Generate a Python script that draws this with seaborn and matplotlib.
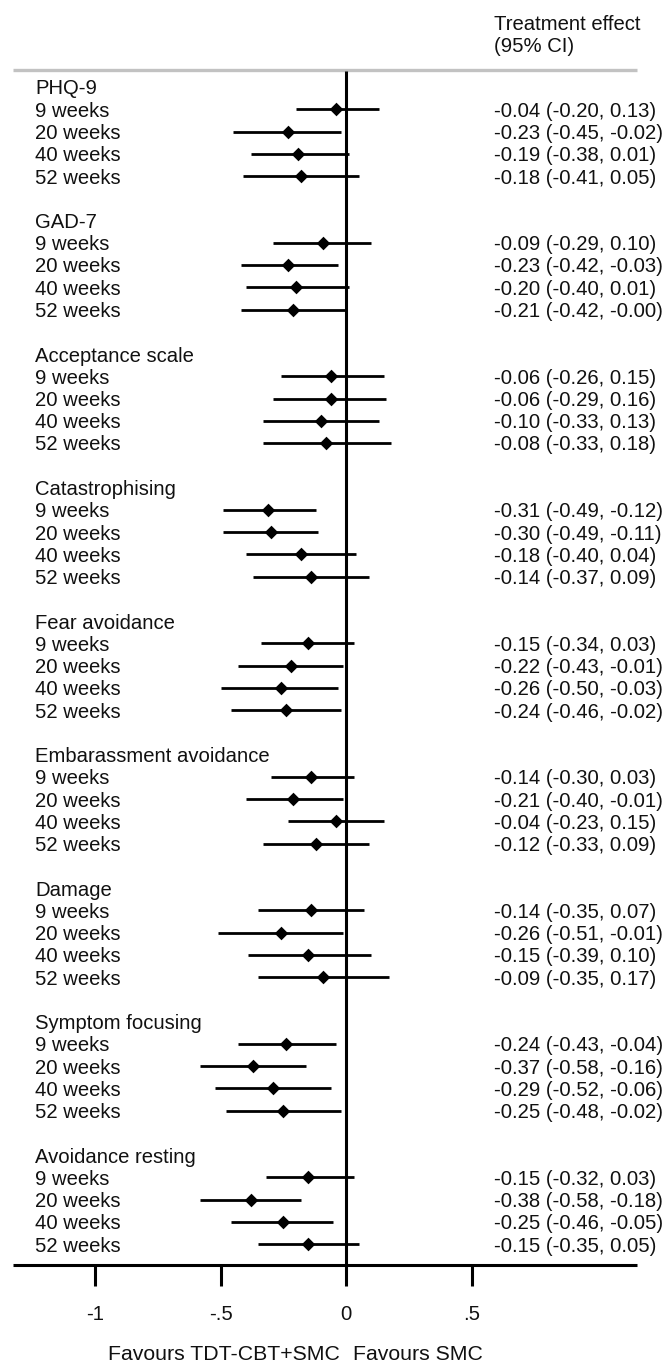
import matplotlib
matplotlib.use("Agg")
import matplotlib.pyplot as plt
import seaborn as sns
import pandas as pd
import numpy as np

sns.set_theme(style="white")
plt.rcParams['font.family'] = ['Liberation Sans', 'DejaVu Sans']
plt.rcParams['text.color'] = '#111111'

# ---------------- data ----------------
outcomes = ["PHQ-9", "GAD-7", "Acceptance scale", "Catastrophising", "Fear avoidance",
            "Embarassment avoidance", "Damage", "Symptom focusing", "Avoidance resting"]
timepoints = ["9 weeks", "20 weeks", "40 weeks", "52 weeks"]

est = [
    [-0.04, -0.23, -0.19, -0.18],
    [-0.09, -0.23, -0.20, -0.21],
    [-0.06, -0.06, -0.10, -0.08],
    [-0.31, -0.30, -0.18, -0.14],
    [-0.15, -0.22, -0.26, -0.24],
    [-0.14, -0.21, -0.04, -0.12],
    [-0.14, -0.26, -0.15, -0.09],
    [-0.24, -0.37, -0.29, -0.25],
    [-0.15, -0.38, -0.25, -0.15],
]
lower = [
    [-0.20, -0.45, -0.38, -0.41],
    [-0.29, -0.42, -0.40, -0.42],
    [-0.26, -0.29, -0.33, -0.33],
    [-0.49, -0.49, -0.40, -0.37],
    [-0.34, -0.43, -0.50, -0.46],
    [-0.30, -0.40, -0.23, -0.33],
    [-0.35, -0.51, -0.39, -0.35],
    [-0.43, -0.58, -0.52, -0.48],
    [-0.32, -0.58, -0.46, -0.35],
]
upper = [
    [0.13, -0.02, 0.01, 0.05],
    [0.10, -0.03, 0.01, -0.00],
    [0.15, 0.16, 0.13, 0.18],
    [-0.12, -0.11, 0.04, 0.09],
    [0.03, -0.01, -0.03, -0.02],
    [0.03, -0.01, 0.15, 0.09],
    [0.07, -0.01, 0.10, 0.17],
    [-0.04, -0.16, -0.06, -0.02],
    [0.03, -0.18, -0.05, 0.05],
]
ci_text = [
    ["-0.04 (-0.20, 0.13)", "-0.23 (-0.45, -0.02)", "-0.19 (-0.38, 0.01)", "-0.18 (-0.41, 0.05)"],
    ["-0.09 (-0.29, 0.10)", "-0.23 (-0.42, -0.03)", "-0.20 (-0.40, 0.01)", "-0.21 (-0.42, -0.00)"],
    ["-0.06 (-0.26, 0.15)", "-0.06 (-0.29, 0.16)", "-0.10 (-0.33, 0.13)", "-0.08 (-0.33, 0.18)"],
    ["-0.31 (-0.49, -0.12)", "-0.30 (-0.49, -0.11)", "-0.18 (-0.40, 0.04)", "-0.14 (-0.37, 0.09)"],
    ["-0.15 (-0.34, 0.03)", "-0.22 (-0.43, -0.01)", "-0.26 (-0.50, -0.03)", "-0.24 (-0.46, -0.02)"],
    ["-0.14 (-0.30, 0.03)", "-0.21 (-0.40, -0.01)", "-0.04 (-0.23, 0.15)", "-0.12 (-0.33, 0.09)"],
    ["-0.14 (-0.35, 0.07)", "-0.26 (-0.51, -0.01)", "-0.15 (-0.39, 0.10)", "-0.09 (-0.35, 0.17)"],
    ["-0.24 (-0.43, -0.04)", "-0.37 (-0.58, -0.16)", "-0.29 (-0.52, -0.06)", "-0.25 (-0.48, -0.02)"],
    ["-0.15 (-0.32, 0.03)", "-0.38 (-0.58, -0.18)", "-0.25 (-0.46, -0.05)", "-0.15 (-0.35, 0.05)"],
]
xticks = [-1, -0.5, 0, 0.5]
xticklabels = ["-1", "-.5", "0", ".5"]

# ---------------- build table ----------------
rows = []
for g, name in enumerate(outcomes):
    for t, tp in enumerate(timepoints):
        rows.append(dict(outcome=name, time=tp, row=g * 6 + 1 + t,
                         est=est[g][t], lo=lower[g][t], hi=upper[g][t],
                         label=ci_text[g][t]))
df = pd.DataFrame(rows)

# ---------------- layout helpers ----------------
W, H = 667, 1362
X0, XS = 346.0, 251.0        # pixel of 0, pixels per unit
Y0, YS = 87.0, 22.25         # pixel of row 0, pixels per row

def px(x):
    return (x - X0) / XS

def py(y):
    return (y - Y0) / YS

fig = plt.figure(figsize=(W / 100, H / 100), dpi=100)
ax = fig.add_axes([0, 0, 1, 1])
ax.set_xlim(px(0), px(W))
ax.set_ylim(py(H), py(0))
ax.axis("off")

fs = 14.6
lw = 2.0
VA = "center_baseline"

# CI lines
ax.hlines(df["row"], df["lo"], df["hi"], color="black", lw=lw, zorder=3)
# point estimates
sns.scatterplot(data=df, x="est", y="row", marker="D", color="black", s=48,
                edgecolor="black", linewidth=0, ax=ax, zorder=4, legend=False)

# gray header rule
ax.hlines(py(70), px(13), px(637), color="#c2c2c2", lw=2.4, zorder=1)
# zero line
axis_row = py(1265)
ax.vlines(0, py(71), axis_row, color="black", lw=2.2, zorder=2)
# x-axis
ax.hlines(axis_row, px(13), px(637), color="black", lw=2.2, zorder=2)
ax.vlines(xticks, axis_row, py(1286), color="black", lw=2.2)
for xt, lab in zip(xticks, xticklabels):
    ax.text(xt, py(1312), lab, ha="center", va=VA, fontsize=fs)

ax.text(px(340), py(1352), "Favours TDT-CBT+SMC", ha="right", va=VA, fontsize=15.3)
ax.text(px(353), py(1352), "Favours SMC", ha="left", va=VA, fontsize=15.3)

# header
ax.text(px(494), py(22), "Treatment effect", ha="left", va=VA, fontsize=fs)
ax.text(px(494), py(45), "(95% CI)", ha="left", va=VA, fontsize=fs)

# labels
for g, name in enumerate(outcomes):
    ax.text(px(35), g * 6, name, ha="left", va=VA, fontsize=fs)
for _, r in df.iterrows():
    ax.text(px(35), r["row"], r["time"], ha="left", va=VA, fontsize=fs)
    ax.text(px(494), r["row"], r["label"], ha="left", va=VA, fontsize=fs)

fig.savefig("out.png", dpi=100, facecolor="white")
